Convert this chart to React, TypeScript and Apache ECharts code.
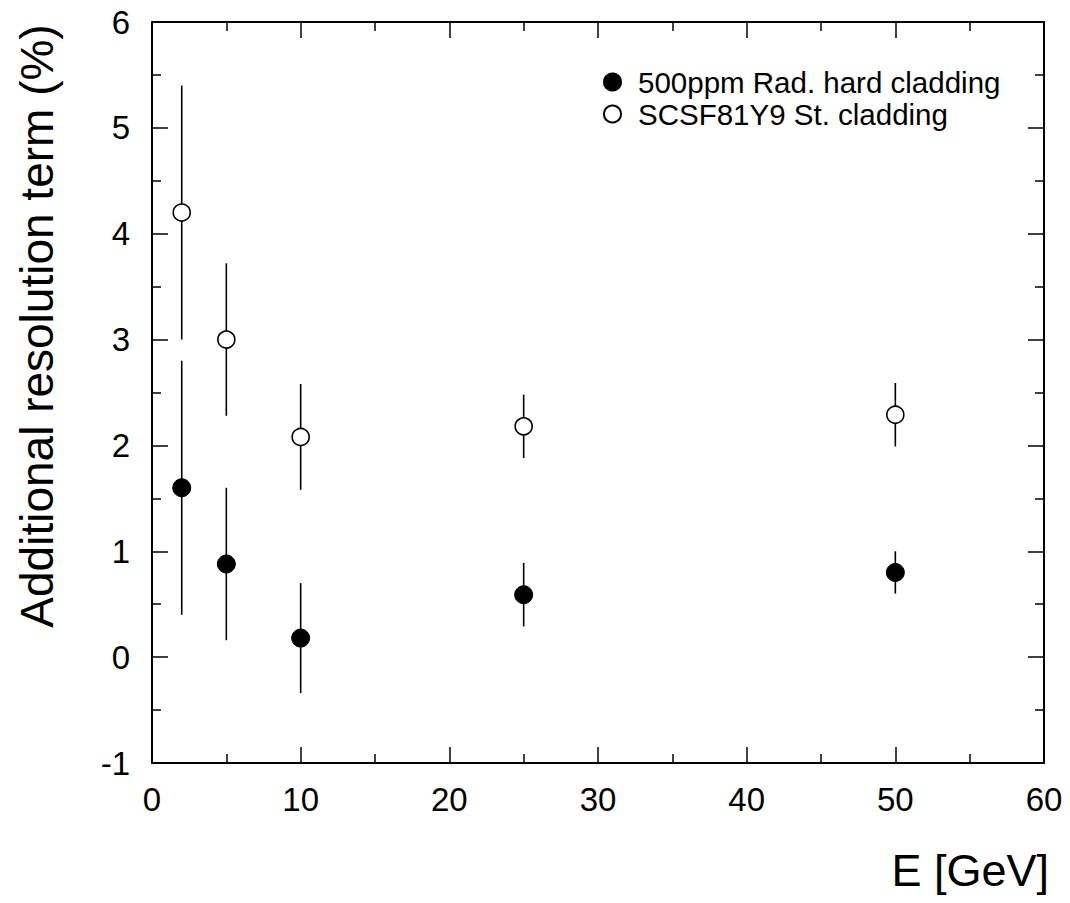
import React, { useEffect, useRef } from "react";
import * as echarts from "echarts";

const energies = [2, 5, 10, 25, 50];
const radHard = [1.6, 0.88, 0.18, 0.59, 0.8];
const radHardErr = [1.2, 0.72, 0.52, 0.3, 0.2];
const standard = [4.2, 3.0, 2.08, 2.18, 2.29];
const standardErr = [1.2, 0.72, 0.5, 0.3, 0.3];
const seriesNames = ["500ppm Rad. hard cladding", "SCSF81Y9 St. cladding"];
const yTitle = "Additional resolution term (%)";
const xTitle = "E [GeV]";

const FONT = "Liberation Sans, Arial, Helvetica, sans-serif";

function errData(vals: number[], errs: number[]) {
  return energies.map((e, i) => [e, vals[i] - errs[i], vals[i] + errs[i]]);
}

function errorBarSeries(vals: number[], errs: number[]) {
  return {
    type: "custom",
    data: errData(vals, errs),
    z: 1,
    silent: true,
    renderItem: (params: any, api: any) => {
      const lo = api.coord([api.value(0), api.value(1)]);
      const hi = api.coord([api.value(0), api.value(2)]);
      return {
        type: "line",
        shape: { x1: lo[0], y1: lo[1], x2: hi[0], y2: hi[1] },
        style: { stroke: "#000", lineWidth: 1.6 },
      };
    },
  };
}

export default function App() {
  const ref = useRef<HTMLDivElement>(null);
  useEffect(() => {
    if (!ref.current) return;
    const chart = echarts.init(ref.current, null, { renderer: "svg" });
    const tickCommon = {
      axisLine: { show: true, onZero: false, lineStyle: { color: "#000", width: 2 } },
      axisTick: { show: true, inside: true, length: 16, lineStyle: { color: "#000", width: 1.5 } },
      minorTick: { show: true, splitNumber: 2, length: 9, lineStyle: { color: "#000", width: 1.5 } },
      splitLine: { show: false },
      minorSplitLine: { show: false },
    };
    chart.setOption({
      animation: false,
      backgroundColor: "#fff",
      grid: { left: 152, right: 26, top: 22, bottom: 140, containLabel: false },
      xAxis: [
        {
          type: "value",
          min: 0,
          max: 60,
          interval: 10,
          position: "bottom",
          ...tickCommon,
          axisLabel: { show: true, fontFamily: FONT, fontSize: 33, color: "#000", margin: 20 },
        },
        {
          type: "value",
          min: 0,
          max: 60,
          interval: 10,
          position: "top",
          ...tickCommon,
          axisLabel: { show: false },
        },
      ],
      yAxis: [
        {
          type: "value",
          min: -1,
          max: 6,
          interval: 1,
          position: "left",
          ...tickCommon,
          axisLabel: { show: true, fontFamily: FONT, fontSize: 33, color: "#000", margin: 22 },
        },
        {
          type: "value",
          min: -1,
          max: 6,
          interval: 1,
          position: "right",
          ...tickCommon,
          axisLabel: { show: false },
        },
      ],
      legend: {
        data: seriesNames,
        orient: "vertical",
        left: 598,
        top: 62,
        itemWidth: 17,
        itemHeight: 17,
        itemGap: 2,
        icon: "circle",
        textStyle: { fontFamily: FONT, fontSize: 29.5, color: "#000", padding: [0, 0, 0, 12] },
      },
      graphic: [
        {
          type: "text",
          x: 37,
          y: 326,
          rotation: Math.PI / 2,
          style: {
            text: yTitle,
            fontFamily: FONT,
            fontSize: 46,
            fill: "#000",
            align: "center",
            verticalAlign: "middle",
          },
        },
        {
          type: "text",
          x: 1049,
          y: 870,
          style: {
            text: xTitle,
            fontFamily: FONT,
            fontSize: 45,
            fill: "#000",
            align: "right",
            verticalAlign: "middle",
          },
        },
      ],
      series: [
        errorBarSeries(radHard, radHardErr),
        errorBarSeries(standard, standardErr),
        {
          name: seriesNames[0],
          type: "scatter",
          z: 3,
          symbol: "circle",
          symbolSize: 18,
          itemStyle: { color: "#000", borderColor: "#000", borderWidth: 1, opacity: 1 },
          data: energies.map((e, i) => [e, radHard[i]]),
        },
        {
          name: seriesNames[1],
          type: "scatter",
          z: 3,
          symbol: "circle",
          symbolSize: 17,
          itemStyle: { color: "#fff", borderColor: "#000", borderWidth: 1.6, opacity: 1 },
          data: energies.map((e, i) => [e, standard[i]]),
        },
      ],
    });
    return () => chart.dispose();
  }, []);
  return (
    <div
      ref={ref}
      style={{ position: "absolute", left: 0, top: 0, width: 1070, height: 903, background: "#fff" }}
    />
  );
}
